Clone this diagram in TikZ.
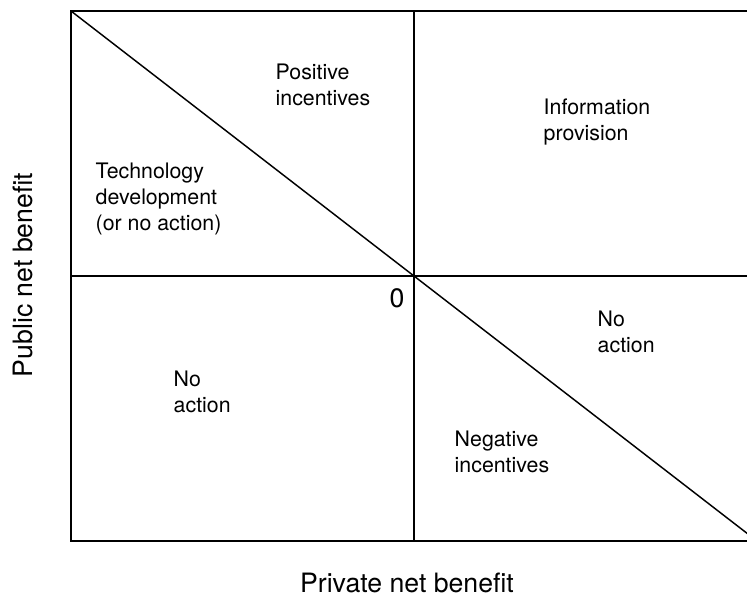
\documentclass[tikz,border=0pt]{standalone}
\usepackage{fontspec}
\setmainfont{TeX Gyre Heros}
\tikzstyle{region} = [anchor=base west, align=left, inner sep=0pt, font=\fontsize{16}{19.5}\selectfont]
\tikzstyle{axis} = [anchor=base, inner sep=0pt, font=\fontsize{20}{24}\selectfont]

\begin{document}
\begin{tikzpicture}[x=0.75pt,y=-0.75pt,line width=1.1pt]
    \useasboundingbox (0,0) rectangle (747,597);
    \clip (0,0) rectangle (747,597);
    \coordinate (TL) at (71,11);
    \coordinate (BR) at (757,541);
    \coordinate (O) at (414,276);
    % quadrants and the break-even diagonal
    \draw (TL) rectangle (BR);
    \draw (O |- TL) -- (O |- BR);
    \draw (TL |- O) -- (BR |- O);
    \draw (TL) -- (BR);
    % base of a multi-line node sits on its last line
    \node[region] (pos) at (275,105) {Positive\\incentives};
    \node[region] (info) at (543,140) {Information\\provision};
    \node[region] (tech) at (95,230) {Technology\\development\\(or no action)};
    \node[region] (noR) at (597,352) {No\\action};
    \node[region] (noL) at (173,412) {No\\action};
    \node[region] (neg) at (454,472) {Negative\\incentives};
    \node[axis] (zero) at (397,307) {0};
    \node[axis] (xlab) at (407,592) {Private net benefit};
    \node[axis, rotate=90] (ylab) at (32,275) {Public net benefit};
\end{tikzpicture}
\end{document}
